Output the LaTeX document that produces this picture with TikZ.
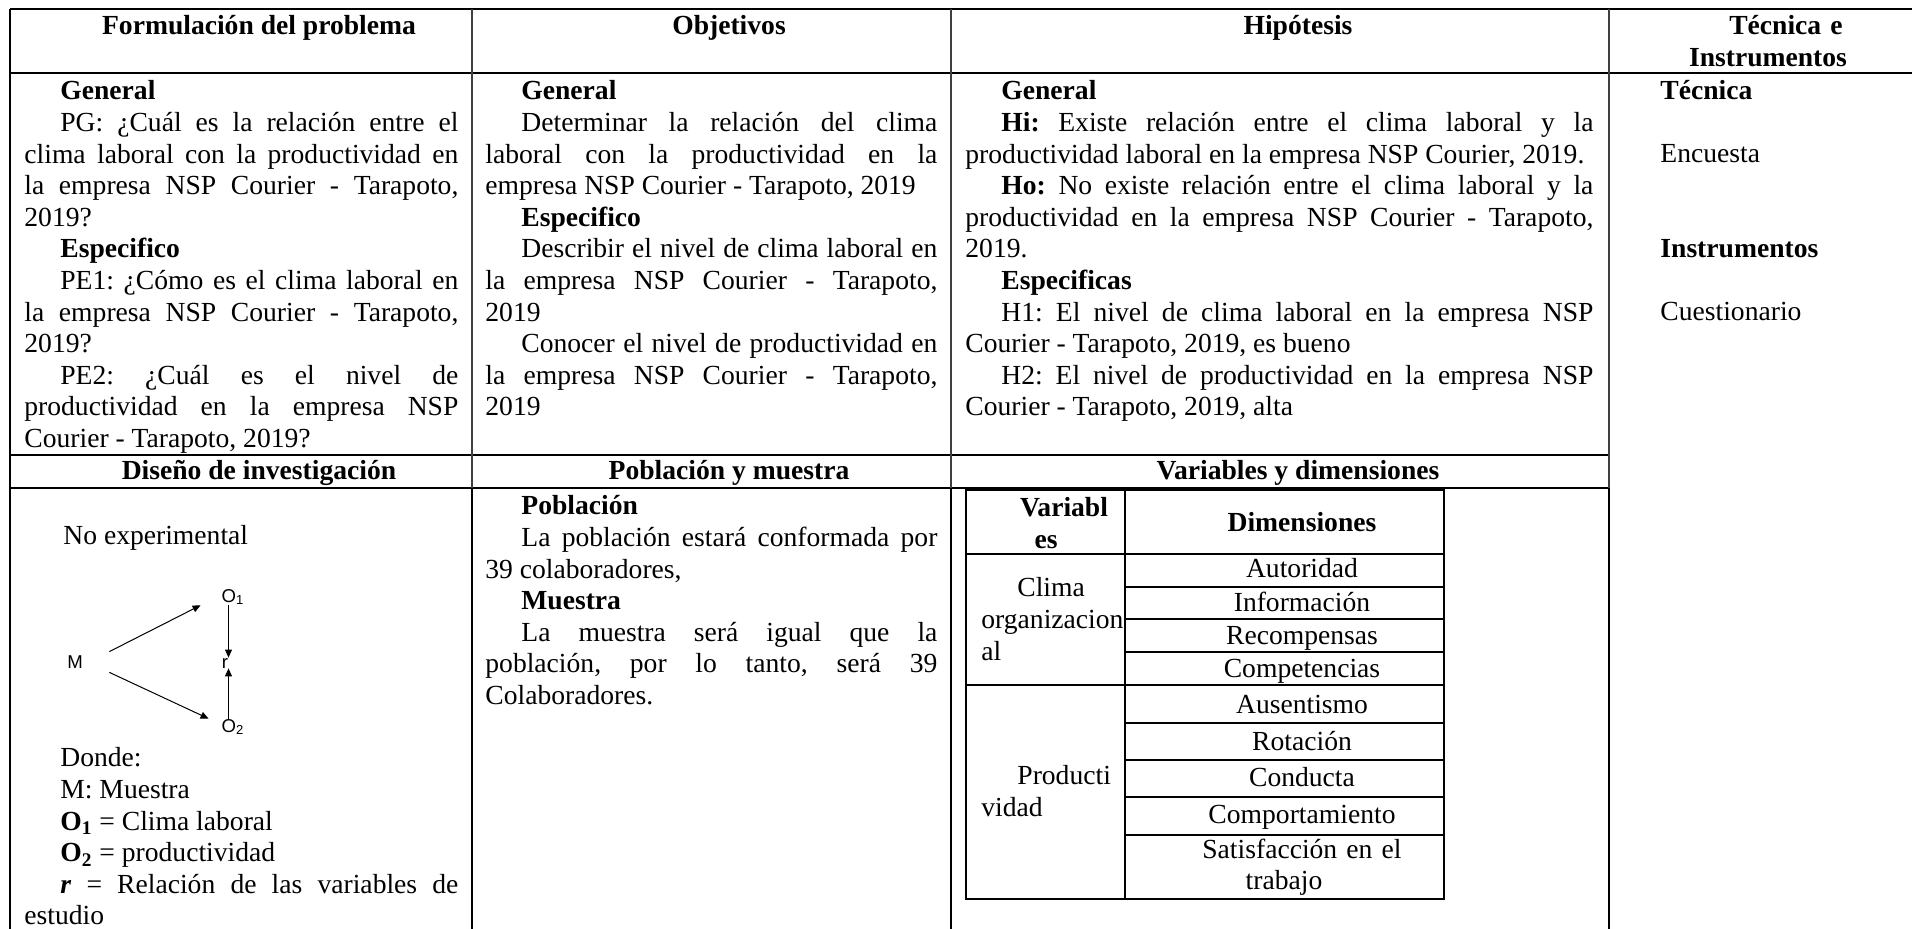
\documentclass[tikz,border=0pt]{standalone}
\usepackage{fontspec}
\setmainfont{Liberation Serif}
\newfontfamily\arialfont{Liberation Sans}
\usetikzlibrary{arrows.meta}

\newcommand{\letra}{\fontsize{13.8}{15.8}\selectfont\frenchspacing}
\newcommand{\sangria}{\hspace*{18pt}}
\hyphenpenalty=10000
\exhyphenpenalty=10000

\tikzset{
  texto/.style={anchor=base west, inner sep=0pt, align=justify},
  etiqueta/.style={anchor=base west, inner sep=0pt},
  titulo/.style={anchor=base, inner sep=0pt, font=\letra\bfseries},
  celda/.style={anchor=base, inner sep=0pt},
  gruesa/.style={line width=1.35pt},
  fina/.style={line width=0.7pt, black!75},
  media/.style={line width=1.1pt},
  marco/.style={line width=1.2pt},
  interna/.style={line width=0.9pt},
  obs/.style={inner sep=0pt, font=\arialfont\fontsize{9.3}{11}\selectfont},
  flecha/.style={-{Triangle[length=4pt,width=3.5pt]}, line width=0.5pt},
}

\begin{document}
\begin{tikzpicture}[x=0.5pt,y=-0.5pt,font=\letra]
  \useasboundingbox (0,0) rectangle (1912,929);
  % Table rules
  \draw[gruesa] (10,9) -- (1912,9);
  \draw[gruesa] (10,73) -- (1912,73);
  \draw[gruesa] (10,455) -- (1609,455);
  \draw[gruesa] (10,488) -- (1609,488);
  \foreach \x in {472,951,1609}
    \draw[fina] (\x,9) -- (\x,488);
  \foreach \x in {10,472,951,1609}
    \draw[media] (\x,488) -- (\x,929);
  \draw[media] (10,9) -- (10,488);
  % Headers
  \node[titulo] (hformulacion) at (259,35) {Formulación del problema};
  \node[titulo] (hobjetivos) at (729,35) {Objetivos};
  \node[titulo] (hhipotesis) at (1298,35) {Hipótesis};
  \node[titulo, text width=140pt, align=center] (htecnica) at (1768,35) {\sangria Técnica e\\Instrumentos};
  \node[titulo] (hdiseno) at (259,480) {Diseño de investigación};
  \node[titulo] (hpoblacion) at (729,480) {Población y muestra};
  \node[titulo] (hvariables) at (1298,480) {Variables y dimensiones};
  % Formulacion del problema
  \node[texto, text width=217pt] (formulacion) at (24,100) {%
    \sangria\textbf{General}\par
    \sangria PG: ¿Cuál es la relación entre el\linebreak clima laboral con la productividad en\linebreak la empresa NSP Courier - Tarapoto,\linebreak 2019?\par
    \sangria\textbf{Especifico}\par
    \sangria PE1: ¿Cómo es el clima laboral en\linebreak la empresa NSP Courier - Tarapoto,\linebreak 2019?\par
    \sangria PE2: ¿Cuál es el nivel de\linebreak productividad en la empresa NSP\linebreak Courier - Tarapoto, 2019?};
  % Objetivos
  \node[texto, text width=226pt] (objetivos) at (485,100) {%
    \sangria\textbf{General}\par
    \sangria Determinar la relación del clima\linebreak laboral con la productividad en la\linebreak empresa NSP Courier - Tarapoto, 2019\par
    \sangria\textbf{Especifico}\par
    \sangria Describir el nivel de clima laboral en\linebreak la empresa NSP Courier - Tarapoto,\linebreak 2019\par
    \sangria Conocer el nivel de productividad en\linebreak la empresa NSP Courier - Tarapoto,\linebreak 2019};
  % Hipotesis
  \node[texto, text width=314pt] (hipotesis) at (965,100) {%
    \sangria\textbf{General}\par
    \sangria\textbf{Hi:} Existe relación entre el clima laboral y la\linebreak productividad laboral en la empresa NSP Courier, 2019.\par
    \sangria\textbf{Ho:} No existe relación entre el clima laboral y la\linebreak productividad en la empresa NSP Courier - Tarapoto,\linebreak 2019.\par
    \sangria\textbf{Especificas}\par
    \sangria H1: El nivel de clima laboral en la empresa NSP\linebreak Courier - Tarapoto, 2019, es bueno\par
    \sangria H2: El nivel de productividad en la empresa NSP\linebreak Courier - Tarapoto, 2019, alta};
  % Tecnica e instrumentos
  \node[etiqueta, font=\letra\bfseries] (tecnica) at (1660,100) {Técnica};
  \node[etiqueta] (encuesta) at (1660,163) {Encuesta};
  \node[etiqueta, font=\letra\bfseries] (instrumentos) at (1660,258) {Instrumentos};
  \node[etiqueta] (cuestionario) at (1660,321) {Cuestionario};
  % Diseno de investigacion
  \node[etiqueta] (noexp) at (63,545) {No experimental};
  \node[obs, minimum width=34pt, minimum height=10pt] (M) at (75,662) {M};
  \node[obs, minimum width=32pt, minimum height=7pt] (O1) at (233,597) {O\textsubscript{1}};
  \node[obs, minimum width=24pt, minimum height=7pt] (O2) at (233,727) {O\textsubscript{2}};
  \node[obs] (r) at (225,663) {r};
  \draw[flecha] (M.north east) -- (O1.south west);
  \draw[flecha] (M.south east) -- (O2.north west);
  \draw[flecha] (O1.south -| r.north east) -- (r.north east);
  \draw[flecha] (O2.north -| r.south east) -- (r.south east);
  \node[texto, text width=217pt] (donde) at (24,767) {%
    \sangria Donde:\par
    \sangria M: Muestra\par
    \sangria\textbf{O\textsubscript{1}} = Clima laboral\par
    \sangria\textbf{O\textsubscript{2}} = productividad\par
    \sangria\textbf{\textit{r}} = Relación de las variables de\linebreak estudio};
  % Poblacion y muestra
  \node[texto, text width=226pt] (poblacion) at (485,515) {%
    \sangria\textbf{Población}\par
    \sangria La población estará conformada por\linebreak 39 colaboradores,\par
    \sangria\textbf{Muestra}\par
    \sangria La muestra será igual que la\linebreak población, por lo tanto, será 39\linebreak Colaboradores.};
  % Variables y dimensiones
  \draw[marco] (966,490) rectangle (1444,899);
  \draw[interna] (1125,490) -- (1125,899);
  \draw[interna] (966,554) -- (1444,554);
  \draw[interna] (966,685) -- (1444,685);
  \foreach \y in {587,619,652,723,760,797,835}
    \draw[interna] (1125,\y) -- (1444,\y);
  \node[celda, text width=65pt, align=center, font=\letra\bfseries] (variables) at (1046,517) {\sangria Variabl\\es};
  \node[celda, font=\letra\bfseries] (dimensiones) at (1302,532) {Dimensiones};
  \node[texto, text width=72pt, align=left] (clima) at (981,597) {\sangria Clima\\organizacion\\al};
  \node[texto, text width=72pt, align=left] (productiv) at (981,785) {\sangria Producti\\vidad};
  \foreach \dim/\y [count=\i] in {Autoridad/578, Información/612, Recompensas/645, Competencias/678, Ausentismo/714, Rotación/751, Conducta/787, Comportamiento/824}
    \node[celda] (dim\i) at (1302,\y) {\dim};
  \node[celda, text width=150pt, align=center] (satisfaccion) at (1284,858) {\sangria Satisfacción en el\\trabajo};
\end{tikzpicture}
\end{document}
